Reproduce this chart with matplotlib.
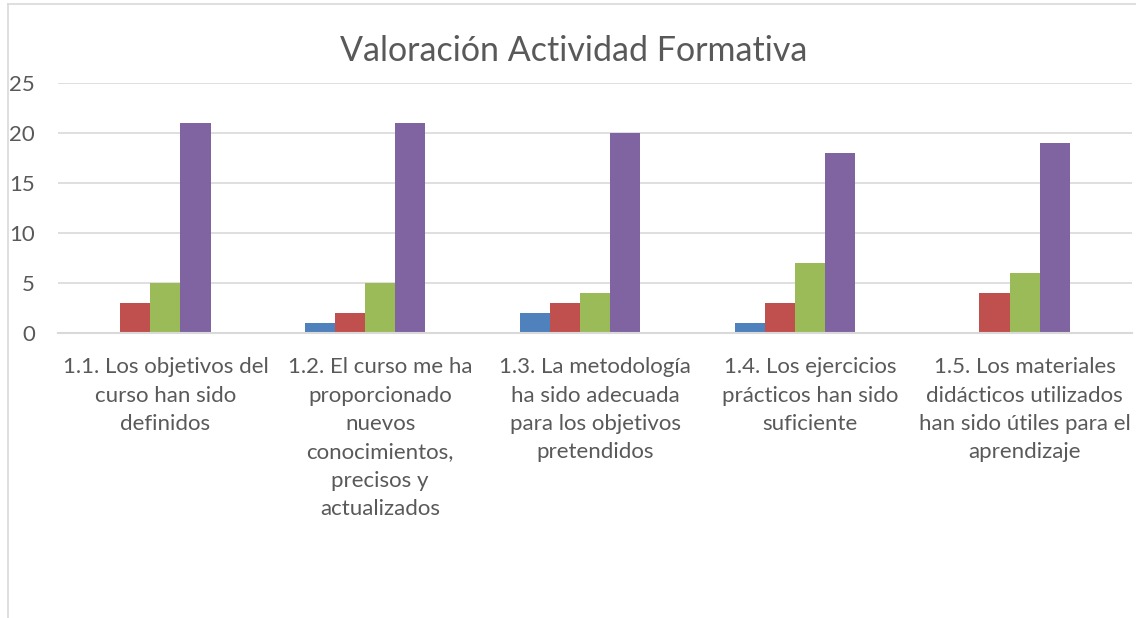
import matplotlib
matplotlib.use("Agg")
import matplotlib.pyplot as plt
import numpy as np
from matplotlib.lines import Line2D

categories = [
    "1.1. Los objetivos del\ncurso han sido\ndefinidos",
    "1.2. El curso me ha\nproporcionado\nnuevos\nconocimientos,\nprecisos y\nactualizados",
    "1.3. La metodología\nha sido adecuada\npara los objetivos\npretendidos",
    "1.4. Los ejercicios\nprácticos han sido\nsuficiente",
    "1.5. Los materiales\ndidácticos utilizados\nhan sido útiles para el\naprendizaje",
]
serie_1 = [0, 1, 2, 1, 0]
serie_2 = [3, 2, 3, 3, 4]
serie_3 = [5, 5, 4, 7, 6]
serie_4 = [21, 21, 20, 18, 19]
serie_5 = [0, 0, 0, 0, 0]  # empty series (reserves a slot, as in the original)
series = [serie_1, serie_2, serie_3, serie_4, serie_5]
colors = ["#4F81BD", "#C0504D", "#9BBB59", "#8064A2", "#F79646"]
yticks = [0, 5, 10, 15, 20, 25]

plt.rcParams['font.family'] = ['Lato', 'DejaVu Sans']
fig = plt.figure(figsize=(11.36, 6.18), dpi=100)
ax = fig.add_axes([58/1136, 1-333/618, (1132-58)/1136, (333-83)/618])

n = len(series)
gap = 0.30
bw = (1 - gap) / n
x = np.arange(len(categories))
for i, (vals, c) in enumerate(zip(series, colors)):
    offs = (i - (n - 1) / 2) * bw
    ax.bar(x + offs, vals, width=bw, color=c, zorder=3, linewidth=0)

ax.set_xlim(-0.5, len(categories) - 0.5)
ax.set_ylim(0, 25)
ax.set_yticks(yticks)
ax.set_yticklabels([str(t) for t in yticks])
ax.set_xticks(x)
ax.set_xticklabels(categories, linespacing=1.52)
ax.tick_params(axis='both', length=0, colors="#595959", labelsize=16)
ax.tick_params(axis='x', pad=17.5)
ax.tick_params(axis='y', pad=16.5)
for lab in ax.get_yticklabels():
    lab.set_horizontalalignment('right')
ax.grid(axis='y', color="#D9D9D9", linewidth=1.2, zorder=0)
for s in ['top', 'right', 'left']:
    ax.spines[s].set_visible(False)
ax.spines['bottom'].set_color("#D9D9D9")
ax.spines['bottom'].set_linewidth(1.5)
ax.spines['bottom'].set_zorder(4)

fig.text(574/1136, 1-51/618, "Valoración Actividad Formativa", ha='center', va='center',
         fontsize=24.5, color="#595959")

# chart area border (left and top edges visible)
fig.add_artist(Line2D([8/1136, 8/1136], [0, 1-4/618], transform=fig.transFigure,
                      color="#D9D9D9", linewidth=1.2))
fig.add_artist(Line2D([8/1136, 1], [1-4/618, 1-4/618], transform=fig.transFigure,
                      color="#D9D9D9", linewidth=1.2))

fig.savefig("out.png", dpi=100)
